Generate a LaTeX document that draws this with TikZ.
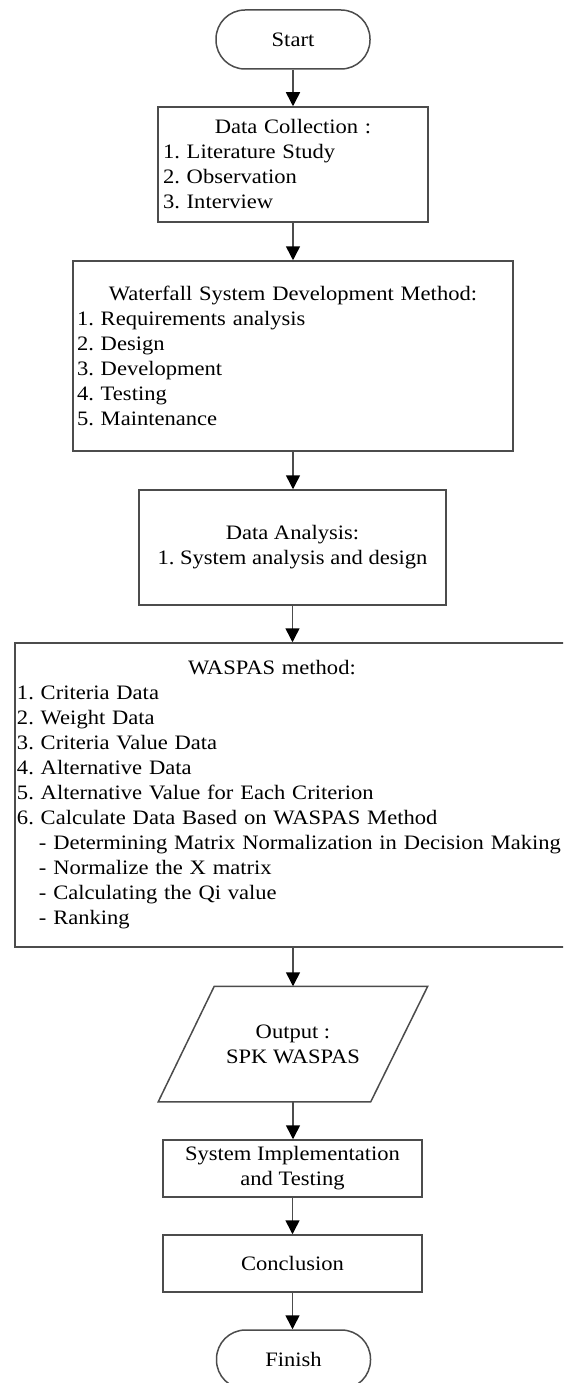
\documentclass[tikz,border=0pt]{standalone}
\usepackage{fontspec}
\setmainfont{Liberation Serif}[FakeStretch=1.1]
\usetikzlibrary{arrows.meta}
\frenchspacing
\newcommand{\boxtitle}[1]{\makebox[\hsize]{#1}}
\tikzset{
  box/.style={draw=black!70, line width=1.5pt, rectangle, font=\fontsize{20.5}{25}\selectfont\frenchspacing, inner ysep=0pt, text=black},
  term/.style={box, rounded corners=29pt, minimum width=154pt, minimum height=59pt},
  edge/.style={draw=black!70, line width=1.5pt},
  arr/.style={edge, -{Triangle[length=14pt,width=14pt,color=black]}},
}
\begin{document}
\begin{tikzpicture}[x=1pt,y=-1pt]
\useasboundingbox (0,0) rectangle (563,1383);
\clip (0,0) rectangle (563,1383);
\node[term] (start) at (293,39.5) {Start};
\node[box, text width=260pt, inner xsep=5pt, minimum height=115pt, align=left] (dc) at (293,164.5)
  {\boxtitle{Data Collection :}\\1. Literature Study\\2. Observation\\3. Interview};
\node[box, text width=432pt, inner xsep=4pt, minimum height=190pt, align=left] (wf) at (293,356)
  {\boxtitle{Waterfall System Development Method:}\\1. Requirements analysis\\2. Design\\3. Development\\4. Testing\\5. Maintenance};
\node[box, minimum width=307pt, minimum height=115pt, align=center] (da) at (292.5,547.5)
  {Data Analysis:\\1. System analysis and design};
\node[box, text width=581pt, inner xsep=2pt, minimum height=304pt, align=left] (wa) at (307.5,795)
  {\makebox[510pt]{WASPAS method:}\\1. Criteria Data\\2. Weight Data\\3. Criteria Value Data\\4. Alternative Data\\5. Alternative Value for Each Criterion\\6. Calculate Data Based on WASPAS Method\\\hspace*{22pt}- Determining Matrix Normalization in Decision Making\\\hspace*{22pt}- Normalize the X matrix\\\hspace*{22pt}- Calculating the Qi value\\\hspace*{22pt}- Ranking};
\node[box, draw=none, minimum width=268pt, minimum height=114pt, align=center] (out) at (293,1044)
  {Output :\\SPK WASPAS};
\draw[edge, line join=miter] ([xshift=56pt]out.north west) -- (out.north east) -- ([xshift=-57pt]out.south east) -- (out.south west) -- cycle;
\node[box, minimum width=259pt, minimum height=57pt, align=center] (impl) at (292.5,1168.5)
  {System Implementation\\and Testing};
\node[box, minimum width=259pt, minimum height=57pt] (conc) at (292.5,1263.5) {Conclusion};
\node[term] (fin) at (293.5,1359.5) {Finish};
\draw[arr] (start.south) -- (start.south |- dc.north);
\draw[arr] (dc.south) -- (dc.south |- wf.north);
\draw[arr] (wf.south) -- (wf.south |- da.north);
\draw[arr] (da.south) -- (da.south |- wa.north);
\draw[arr] (out.north |- wa.south) -- (out.north);
\draw[arr] (out.south) -- (out.south |- impl.north);
\draw[arr] (impl.south) -- (impl.south |- conc.north);
\draw[arr] (conc.south) -- (conc.south |- fin.north);
\end{tikzpicture}
\end{document}
